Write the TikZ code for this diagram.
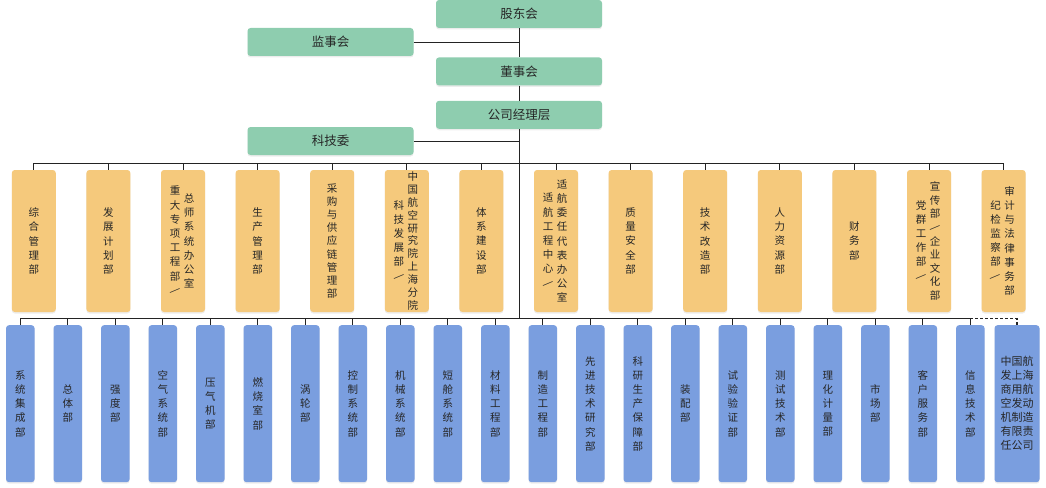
\documentclass[tikz,border=0pt]{standalone}
\usepackage{fontspec}
\newfontfamily\cjk{Noto Sans CJK SC}
\usetikzlibrary{positioning,shadows}

\definecolor{boardgreen}{RGB}{142,205,175}
\definecolor{deptorange}{RGB}{245,201,124}
\definecolor{unitblue}{RGB}{122,158,223}
\definecolor{linegray}{RGB}{35,35,35}

% one character per line
\makeatletter
\def\vstack#1{\expandafter\vst@ck#1\@nil}
\def\vst@ck#1#2\@nil{#1\ifx\relax#2\relax\else\\\vst@ck#2\@nil\fi}
\makeatother
\newcommand\slsh{\rotatebox[origin=c]{-50}{/}}

\begin{document}
\begin{tikzpicture}[x=1pt,y=-1pt,
        every node/.style={font=\cjk,text=black!85},
        box/.style={rectangle,rounded corners=3pt,inner sep=0pt,
          drop shadow={opacity=0.15,shadow xshift=0pt,shadow yshift=-1.5pt}},
        board/.style={box,fill=boardgreen,minimum width=166pt,minimum height=28pt,
          font=\cjk\fontsize{12.5}{15}\selectfont},
        dept/.style={box,fill=deptorange,minimum width=44pt,minimum height=142pt},
        unit/.style={box,fill=unitblue,minimum width=28.5pt,minimum height=157pt},
        vtext/.style={align=center,inner sep=0pt,font=\cjk\fontsize{10.5}{#1}\selectfont},
        vtext/.default=14.2,
        conn/.style={draw=linegray,line width=0.9pt},
        link/.style={draw=linegray,line width=1.4pt,dash pattern=on 3pt off 2pt}]
   \useasboundingbox (0,0) rectangle (1046,487);
   % top
   \node[board] (A) at (519,14) {股东会};
   \node[board] (B) at (330.5,42) {监事会};
   \node[board] (C) [below=29pt of A] {董事会};
   \node[board] (D) [below=15pt of C] {公司经理层};
   \node[board] (E) at (330.5,141) {科技委};
   \coordinate (obar) at (519,163.4);
   \coordinate (bbar) at (519,318.5);
   \draw[conn] (A) -- (C) (C) -- (D) (D.south) -- (bbar);
   \draw[conn] (B.east) -- (B.east -| A.south) (E.east) -- (E.east -| D.south);
   % departments: right column / left column / line spacing
   \foreach \a/\b/\s [count=\i from 0] in {综合管理部//14.2,发展计划部//14.2,
        总师系统办公室/重大专项工程部\slsh/14.2,生产管理部//14.2,采购与供应链管理部//13.2,
        中国航空研究院上海分院/科技发展部\slsh/12.9,体系建设部//14.2,
        适航委任代表办公室/适航工程中心\slsh/14.2,质量安全部//14.2,技术改造部//14.2,
        人力资源部//14.2,财务部//14.2,宣传部\slsh 企业文化部/党群工作部\slsh/13.6,
        审计与法律事务部/纪检监察部\slsh/14.2}{
      \node[dept] (o\i) at ({33.8+74.6*\i},241) {};
      \ifx\b\empty
        \node[vtext=\s] at (o\i) {\vstack\a};
      \else
        \node[vtext=\s] at ([xshift=6pt]o\i.center) {\vstack\a};
        \node[vtext] at ([xshift=-8pt]o\i.center) {\vstack\b};
      \fi
      \draw[conn] (o\i.north) -- (o\i.north |- obar);
   }
   \draw[conn] (o0.north |- obar) -- (o13.north |- obar);
   % units
   \foreach \a [count=\i from 0] in {系统集成部,总体部,强度部,空气系统部,压气机部,燃烧室部,
        涡轮部,控制系统部,机械系统部,短舱系统部,材料工程部,制造工程部,先进技术研究部,
        科研生产保障部,装配部,试验验证部,测试技术部,理化计量部,市场部,客户服务部,信息技术部}{
      \node[unit] (b\i) at ({20.3+47.5*\i},403.7) {};
      \node[vtext] at (b\i) {\vstack\a};
      \draw[conn] (b\i.north) -- (b\i.north |- bbar);
   }
   \node[unit,minimum width=45pt] (b21) at (1017,403.7) {};
   \node[vtext,font=\cjk\fontsize{11}{14}\selectfont] at (b21)
        {中国航\\发上海\\商用航\\空发动\\机制造\\有限责\\任公司};
   \draw[conn] (b0.north |- bbar) -- (b20.north |- bbar);
   \draw[link] (b20.north |- bbar) -| (b21.north);
\end{tikzpicture}
\end{document}
